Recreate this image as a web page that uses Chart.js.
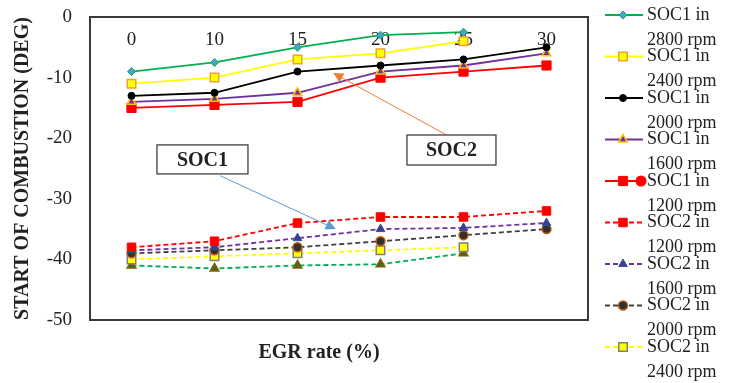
<!DOCTYPE html>
<html lang="en">
<head>
<meta charset="UTF-8">
<title>Start of combustion vs EGR rate</title>
<script src="https://cdn.jsdelivr.net/npm/chart.js@4"></script>
<style>
  html, body { margin: 0; padding: 0; background: #fff; }
  #wrap { width: 729px; height: 383px; position: relative; }
</style>
</head>
<body>
<div id="wrap"><canvas id="socChart"></canvas></div>
<script>
// x categories (EGR rate, %)
const egrRates = ['0', '10', '15', '20', '25', '30'];

// y axis range (deg)
const yMin = -50;
const yMax = 0;
const yStep = 10;

// series names
const seriesNames = [
  'SOC1 in 2800 rpm', 'SOC1 in 2400 rpm', 'SOC1 in 2000 rpm', 'SOC1 in 1600 rpm', 'SOC1 in 1200 rpm',
  'SOC2 in 1200 rpm', 'SOC2 in 1600 rpm', 'SOC2 in 2000 rpm', 'SOC2 in 2400 rpm', 'SOC2 in 2800 rpm'
];

// start of combustion values
const soc1_2800 = [-9, -7.5, -5, -3, -2.5, null];
const soc1_2400 = [-11, -10, -7, -6, -4, null];
const soc1_2000 = [-13, -12.5, -9, -8, -7, -5];
const soc1_1600 = [-14, -13.5, -12.5, -9, -8, -6];
const soc1_1200 = [-15, -14.5, -14, -10, -9, -8];
const soc2_1200 = [-38, -37, -34, -33, -33, -32];
const soc2_1600 = [-38.5, -38, -36.5, -35, -34.8, -34];
const soc2_2000 = [-39, -38.5, -38, -37, -36, -35];
const soc2_2400 = [-40, -39.5, -39, -38.5, -38, null];
const soc2_2800 = [-41, -41.5, -41, -40.8, -39, null];

const serif = "'Liberation Serif', 'Times New Roman', serif";

function series(i, data, color, dashed, style, radius, fill, border, bw) {
  return {
    label: seriesNames[i],
    data: data,
    borderColor: color,
    backgroundColor: color,
    borderWidth: 1.8,
    borderDash: dashed ? [5, 3] : [],
    pointStyle: style,
    pointRadius: radius,
    pointHoverRadius: radius,
    pointBackgroundColor: fill,
    pointBorderColor: border,
    pointBorderWidth: bw,
    tension: 0,
    spanGaps: false
  };
}

const datasets = [
  series(0, soc1_2800, '#00b050', false, 'rectRot', 4, '#4f9fd0', '#00b050', 1),
  series(1, soc1_2400, '#ffff00', false, 'rect', 6, '#ffff00', '#f0a030', 1.5),
  series(2, soc1_2000, '#000000', false, 'circle', 3.5, '#000000', '#000000', 1),
  series(3, soc1_1600, '#7030a0', false, 'triangle', 5, '#7030a0', '#ffc000', 1.5),
  series(4, soc1_1200, '#ff0000', false, 'rect', 6.5, '#ff0000', '#ff0000', 1),
  series(5, soc2_1200, '#ff0000', true, 'rect', 6, '#ff0000', '#ff0000', 1),
  series(6, soc2_1600, '#7030a0', true, 'triangle', 5, '#3f3c99', '#2f5597', 1),
  series(7, soc2_2000, '#404040', true, 'circle', 4.5, '#303030', '#c55a11', 1.5),
  series(8, soc2_2400, '#ffff00', true, 'rect', 6, '#ffff00', '#7f7f7f', 1.5),
  series(9, soc2_2800, '#00b050', true, 'triangle', 5, '#4f6228', '#7f6000', 1.5)
];
datasets[4].legendTail = true;   // the odd red dot in the original legend
datasets[9].legendHidden = true; // last entry falls off the original legend

// text boxes with arrows, in data units (category index, deg)
const callouts = [
  { text: 'SOC1', at: [0.855, -23.5], w: 91, h: 29, from: [1.07, -26.2], to: [2.46, -35], color: '#5b9bd5' },
  { text: 'SOC2', at: [3.855, -21.95], w: 89, h: 30, from: [3.80, -19.5], to: [2.43, -9.25], color: '#ed7d31' }
];

const frameAndNotes = {
  id: 'frameAndNotes',
  afterDatasetsDraw(chart) {
    const { ctx, chartArea: a, scales } = chart;
    ctx.save();
    ctx.strokeStyle = '#3a3a3a';
    ctx.lineWidth = 2;
    ctx.strokeRect(a.left, a.top, a.right - a.left, a.bottom - a.top);

    callouts.forEach(c => {
      const x1 = scales.x.getPixelForValue(c.from[0]), y1 = scales.y.getPixelForValue(c.from[1]);
      const x2 = scales.x.getPixelForValue(c.to[0]), y2 = scales.y.getPixelForValue(c.to[1]);
      const ang = Math.atan2(y2 - y1, x2 - x1);
      ctx.strokeStyle = c.color;
      ctx.fillStyle = c.color;
      ctx.lineWidth = 1;
      ctx.beginPath();
      ctx.moveTo(x1, y1);
      ctx.lineTo(x2 - 8 * Math.cos(ang), y2 - 8 * Math.sin(ang));
      ctx.stroke();
      ctx.beginPath();
      ctx.moveTo(x2, y2);
      ctx.lineTo(x2 - 10 * Math.cos(ang) + 5 * Math.sin(ang), y2 - 10 * Math.sin(ang) - 5 * Math.cos(ang));
      ctx.lineTo(x2 - 10 * Math.cos(ang) - 5 * Math.sin(ang), y2 - 10 * Math.sin(ang) + 5 * Math.cos(ang));
      ctx.closePath();
      ctx.fill();

      const cx = scales.x.getPixelForValue(c.at[0]), cy = scales.y.getPixelForValue(c.at[1]);
      ctx.fillStyle = '#fff';
      ctx.fillRect(cx - c.w / 2, cy - c.h / 2, c.w, c.h);
      ctx.strokeStyle = '#404040';
      ctx.lineWidth = 1.3;
      ctx.strokeRect(cx - c.w / 2, cy - c.h / 2, c.w, c.h);
      ctx.fillStyle = '#222';
      ctx.font = 'bold 20px ' + serif;
      ctx.textAlign = 'center';
      ctx.textBaseline = 'middle';
      ctx.fillText(c.text, cx, cy + 1);
    });
    ctx.restore();
  }
};

const sideLegend = {
  id: 'sideLegend',
  afterDraw(chart) {
    const ctx = chart.ctx;
    const x0 = chart.chartArea.right + 17;
    chart.data.datasets.forEach((ds, i) => {
      if (ds.legendHidden) return;
      const y = 15 + i * 41.5;
      ctx.save();
      ctx.strokeStyle = ds.borderColor;
      ctx.lineWidth = ds.borderWidth;
      ctx.setLineDash(ds.borderDash);
      ctx.beginPath();
      ctx.moveTo(x0, y);
      ctx.lineTo(x0 + 38, y);
      ctx.stroke();
      ctx.setLineDash([]);
      ctx.fillStyle = ds.pointBackgroundColor;
      ctx.strokeStyle = ds.pointBorderColor;
      ctx.lineWidth = ds.pointBorderWidth;
      Chart.helpers.drawPoint(ctx, {
        pointStyle: ds.pointStyle, radius: ds.pointRadius, rotation: 0, borderWidth: ds.pointBorderWidth
      }, x0 + 18, y);
      if (ds.legendTail) {
        ctx.fillStyle = ds.borderColor;
        ctx.beginPath();
        ctx.arc(x0 + 36, y, 5.5, 0, Math.PI * 2);
        ctx.fill();
      }
      const parts = ds.label.split(' in ');
      ctx.fillStyle = '#222';
      ctx.font = '18px ' + serif;
      ctx.textAlign = 'left';
      ctx.textBaseline = 'middle';
      ctx.fillText(parts[0] + ' in', x0 + 42, y);
      ctx.fillText(parts[1], x0 + 42, y + 25);
      ctx.restore();
    });
  }
};

new Chart(document.getElementById('socChart'), {
  type: 'line',
  data: { labels: egrRates, datasets: datasets },
  plugins: [frameAndNotes, sideLegend],
  options: {
    responsive: true,
    maintainAspectRatio: false,
    animation: false,
    layout: { padding: { left: 0, top: 17, right: 141, bottom: 0 } },
    plugins: {
      legend: { display: false },
      tooltip: { enabled: false }
    },
    scales: {
      x: {
        type: 'category',
        position: { y: 0 },
        offset: true,
        grid: { display: false, drawTicks: false },
        border: { display: false },
        ticks: { color: '#222', font: { family: serif, size: 19 }, padding: 12, maxRotation: 0 }
      },
      x2: {
        type: 'category',
        labels: egrRates,
        position: 'bottom',
        offset: true,
        grid: { display: false, drawTicks: false },
        border: { display: false },
        ticks: { display: false },
        title: {
          display: true,
          text: 'EGR rate (%)\u00a0\u00a0\u00a0\u00a0\u00a0\u00a0\u00a0\u00a0',
          color: '#222',
          font: { family: serif, size: 20, weight: 'bold' },
          padding: { top: 0, bottom: 18 }
        },
        afterFit(scale) { scale.height = 63; }
      },
      y: {
        min: yMin,
        max: yMax,
        position: 'left',
        grid: { display: false, drawTicks: true, tickLength: 18 },
        border: { display: false },
        ticks: { stepSize: yStep, color: '#222', font: { family: serif, size: 19 }, padding: 0 },
        title: {
          display: true,
          text: 'START OF COMBUSTION (DEG)',
          color: '#222',
          font: { family: serif, size: 20, weight: 'bold' },
          padding: { top: 11, bottom: 0 }
        },
        afterFit(scale) { scale.width = 90; }
      }
    }
  }
});
</script>
</body>
</html>
